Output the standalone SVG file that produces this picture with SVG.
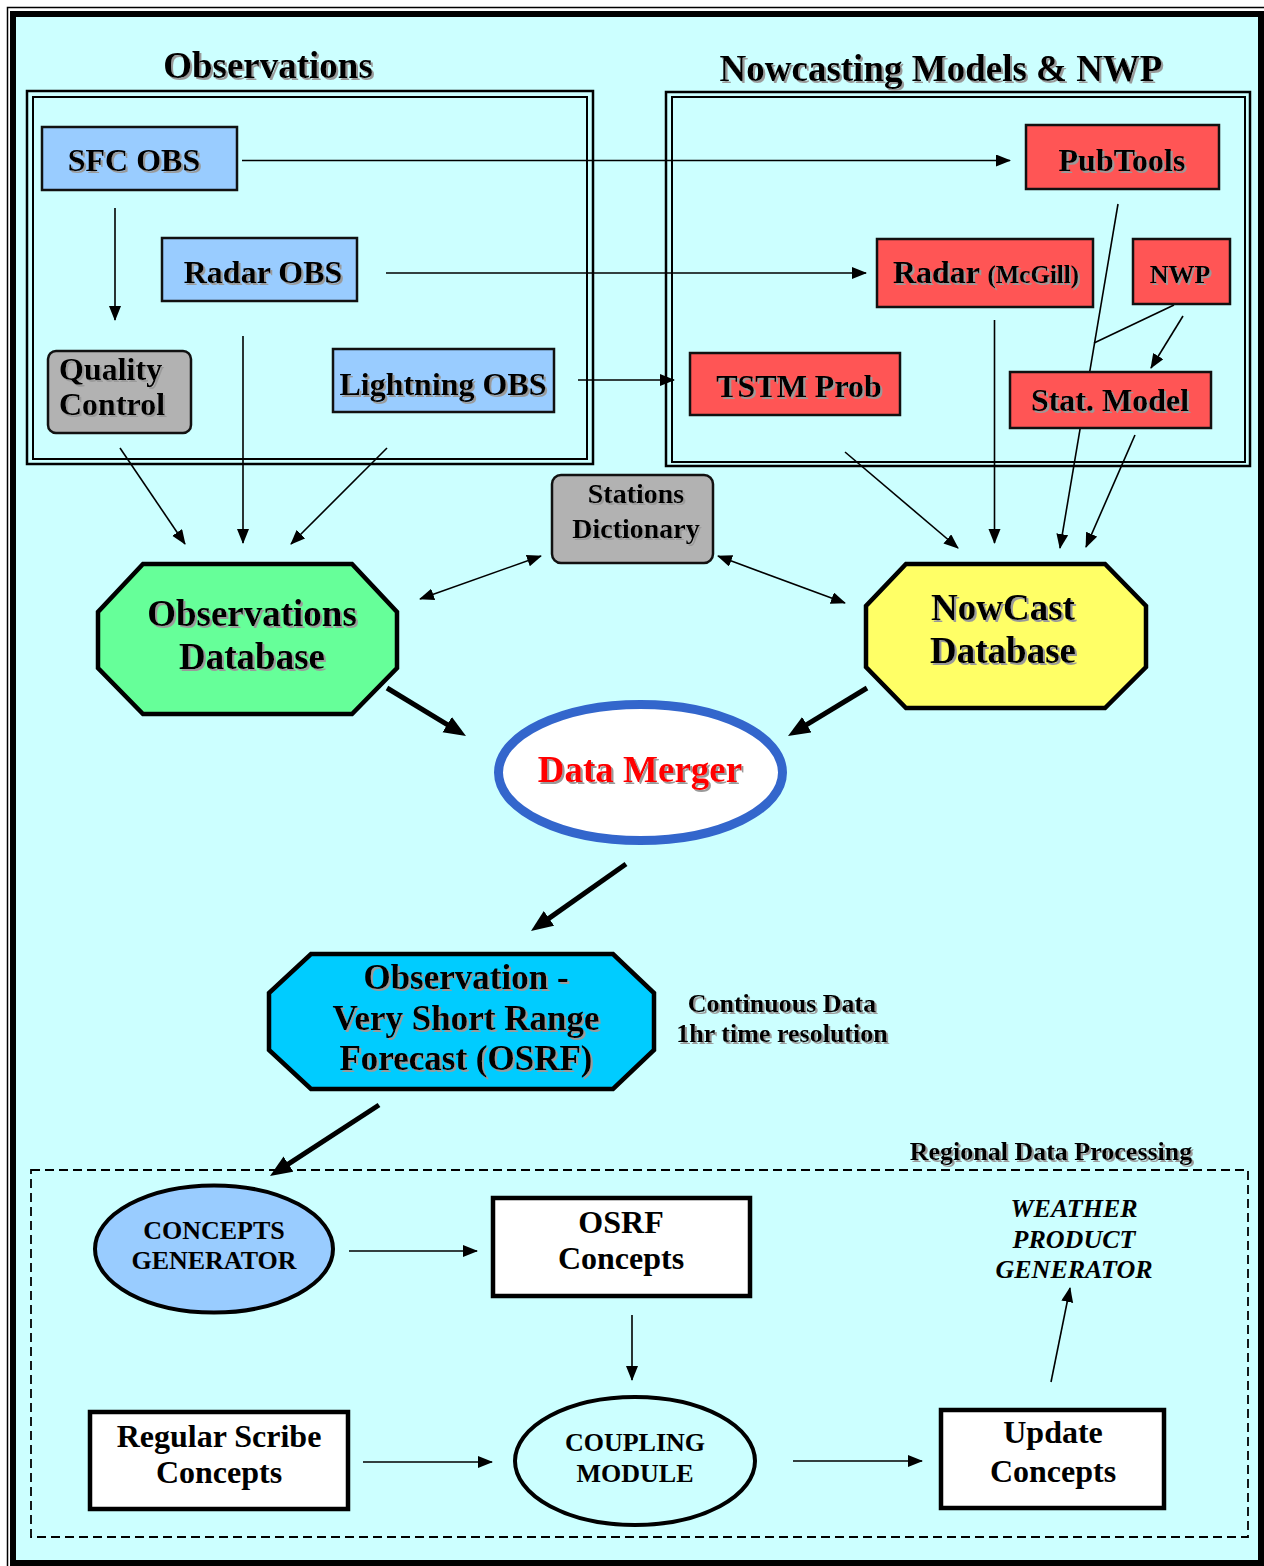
<svg xmlns="http://www.w3.org/2000/svg" width="1264" height="1566" viewBox="0 0 1264 1566">
<defs>
<style>
text{font-family:"Liberation Serif","Times New Roman",serif;font-weight:bold;fill:#000;}
.t37{font-size:37px;}
.t35{font-size:35px;}
.t32{font-size:32px;}
.t28{font-size:28px;}
.t26{font-size:26px;}
.c{text-anchor:middle;}
.sh{filter:url(#shadow);}
.ln{fill:none;stroke:#000;stroke-width:1.6;}
.thick{fill:none;stroke:#000;stroke-width:5;}
.obs{fill:#99CCFF;stroke:#111;stroke-width:2.5;}
.red{fill:#FF5555;stroke:#111;stroke-width:2.5;}
.gray{fill:#B2B2B2;stroke:#111;stroke-width:2.5;}
.oct{stroke:#000;stroke-width:4.5;}
.wbox{fill:#FFFFFF;stroke:#000;stroke-width:4.5;}
</style>
<filter id="shadow" x="-5%" y="-20%" width="115%" height="150%">
<feFlood flood-color="#9a9a9a"/>
<feComposite in2="SourceAlpha" operator="in"/>
<feOffset dx="1.5" dy="1.5" result="s"/>
<feMerge><feMergeNode in="s"/><feMergeNode in="SourceGraphic"/></feMerge>
</filter>
<marker id="ah" markerUnits="userSpaceOnUse" markerWidth="16" markerHeight="13" refX="14" refY="6" orient="auto-start-reverse">
<path d="M0,0 L15,6 L0,12 Z" fill="#000"/>
</marker>
<marker id="ahT" markerUnits="userSpaceOnUse" markerWidth="24" markerHeight="20" refX="4" refY="9" orient="auto">
<path d="M0,0 L22,9 L0,18 Z" fill="#000"/>
</marker>
</defs>

<!-- background frame -->
<rect x="7.5" y="7.5" width="1262" height="1562" fill="none" stroke="#000" stroke-width="1.5"/>
<rect x="13" y="14" width="1248" height="1549" fill="#CCFFFF" stroke="#000" stroke-width="6"/>

<!-- group frames -->
<g id="obs-group">
<rect x="27" y="91" width="566" height="373" fill="none" stroke="#000" stroke-width="2.5"/>
<rect x="33" y="97" width="554" height="362" fill="none" stroke="#000" stroke-width="2"/>
<text class="t37 c sh" x="268" y="78">Observations</text>
</g>
<g id="nwp-group">
<rect x="666" y="92" width="584" height="374" fill="none" stroke="#000" stroke-width="2.5"/>
<rect x="672" y="97" width="573" height="365" fill="none" stroke="#000" stroke-width="2"/>
<text class="t37 c sh" x="941" y="81">Nowcasting Models &amp; NWP</text>
</g>
<g id="regional-group">
<rect x="31" y="1170" width="1217" height="367" fill="none" stroke="#000" stroke-width="1.8" stroke-dasharray="9,5"/>
<text class="t26 c sh" x="1051" y="1160">Regional Data Processing</text>
</g>

<!-- connectors -->
<g id="connectors">
<line class="ln" x1="242" y1="160.5" x2="1010" y2="160.5" marker-end="url(#ah)"/>
<line class="ln" x1="115" y1="208" x2="115" y2="320" marker-end="url(#ah)"/>
<line class="ln" x1="386" y1="273" x2="866" y2="273" marker-end="url(#ah)"/>
<line class="ln" x1="578" y1="380" x2="674" y2="380" marker-end="url(#ah)"/>
<line class="ln" x1="243" y1="336" x2="243" y2="543" marker-end="url(#ah)"/>
<line class="ln" x1="120" y1="448" x2="185" y2="544" marker-end="url(#ah)"/>
<line class="ln" x1="387" y1="448" x2="291" y2="544" marker-end="url(#ah)"/>
<line class="ln" x1="420" y1="599" x2="541" y2="556" marker-start="url(#ah)" marker-end="url(#ah)"/>
<line class="ln" x1="718" y1="556" x2="845" y2="603" marker-start="url(#ah)" marker-end="url(#ah)"/>
<line class="ln" x1="845" y1="452" x2="958" y2="548" marker-end="url(#ah)"/>
<line class="ln" x1="994.5" y1="320" x2="994.5" y2="543" marker-end="url(#ah)"/>
<line class="ln" x1="1118" y1="204" x2="1060" y2="548" marker-end="url(#ah)"/>
<line class="ln" x1="1174" y1="305" x2="1094" y2="343"/>
<line class="ln" x1="1183" y1="316" x2="1151" y2="368" marker-end="url(#ah)"/>
<line class="ln" x1="1135" y1="435" x2="1086" y2="547" marker-end="url(#ah)"/>
<line class="thick" x1="387" y1="688" x2="450.6" y2="726.7" marker-end="url(#ahT)"/>
<line class="thick" x1="867" y1="688" x2="803.4" y2="726.7" marker-end="url(#ahT)"/>
<line class="thick" x1="626" y1="864" x2="545.7" y2="920.6" marker-end="url(#ahT)"/>
<line class="thick" x1="379" y1="1105" x2="285.1" y2="1166.2" marker-end="url(#ahT)"/>
<line class="ln" x1="349" y1="1251" x2="477" y2="1251" marker-end="url(#ah)"/>
<line class="ln" x1="632" y1="1315" x2="632" y2="1380" marker-end="url(#ah)"/>
<line class="ln" x1="363" y1="1462" x2="492" y2="1462" marker-end="url(#ah)"/>
<line class="ln" x1="793" y1="1461" x2="922" y2="1461" marker-end="url(#ah)"/>
<line class="ln" x1="1051" y1="1382" x2="1070" y2="1288" marker-end="url(#ah)"/>
</g>

<!-- observation nodes -->
<g id="sfc-obs">
<rect class="obs" x="42" y="127" width="195" height="63"/>
<text class="t32 c sh" x="134" y="171">SFC OBS</text>
</g>
<g id="radar-obs">
<rect class="obs" x="162" y="238" width="195" height="63"/>
<text class="t32 c sh" x="263" y="283">Radar OBS</text>
</g>
<g id="lightning-obs">
<rect class="obs" x="333" y="349" width="221" height="63"/>
<text class="t32 c sh" x="443" y="395">Lightning OBS</text>
</g>
<g id="quality-control">
<rect class="gray" x="48" y="351" width="143" height="82" rx="8" ry="8"/>
<text class="t32 sh" x="59" y="380">Quality</text>
<text class="t32 sh" x="59" y="415">Control</text>
</g>

<!-- nowcasting nodes -->
<g id="pubtools">
<rect class="red" x="1026" y="125" width="193" height="64"/>
<text class="t32 c sh" x="1122" y="171">PubTools</text>
</g>
<g id="radar-mcgill">
<rect class="red" x="877" y="239" width="216" height="68"/>
<text class="t32 c sh" x="986" y="283">Radar <tspan style="font-size:25px">(McGill)</tspan></text>
</g>
<g id="nwp">
<rect class="red" x="1133" y="239" width="97" height="65"/>
<text class="t26 c sh" x="1180" y="283">NWP</text>
</g>
<g id="tstm-prob">
<rect class="red" x="690" y="353" width="210" height="62"/>
<text class="t32 c sh" x="799" y="397">TSTM Prob</text>
</g>
<g id="stat-model">
<rect class="red" x="1010" y="372" width="201" height="56"/>
<text class="t32 c sh" x="1110" y="411">Stat. Model</text>
</g>

<!-- middle nodes -->
<g id="stations-dictionary">
<rect class="gray" x="552" y="475" width="161" height="88" rx="9" ry="9"/>
<text class="t28 c sh" x="636" y="503">Stations</text>
<text class="t28 c sh" x="636" y="538">Dictionary</text>
</g>
<g id="observations-database">
<polygon class="oct" fill="#66FF99" points="143,564 352,564 397,612 397,668 352,714 143,714 98,668 98,612"/>
<text class="t37 c sh" x="252" y="626">Observations</text>
<text class="t37 c sh" x="252" y="669">Database</text>
</g>
<g id="nowcast-database">
<polygon class="oct" fill="#FFFF66" points="906,564 1105,564 1146,606 1146,667 1105,708 906,708 866,667 866,606"/>
<text class="t37 c sh" x="1003" y="620">NowCast</text>
<text class="t37 c sh" x="1003" y="663">Database</text>
</g>
<g id="data-merger">
<ellipse cx="640.5" cy="772.5" rx="142" ry="68" fill="#FFFFFF" stroke="#3366CC" stroke-width="9"/>
<text class="t37 c sh" x="640" y="782" style="fill:#FF0000">Data Merger</text>
</g>
<g id="osrf">
<polygon class="oct" fill="#00CCFF" points="311,954 613,954 654,993 654,1050 613,1089 311,1089 269,1050 269,993"/>
<text class="t35 c sh" x="466" y="989">Observation -</text>
<text class="t35 c sh" x="466" y="1030">Very Short Range</text>
<text class="t35 c sh" x="466" y="1070">Forecast (OSRF)</text>
</g>
<g id="continuous-note">
<text class="t26 c sh" x="782" y="1012">Continuous Data</text>
<text class="t26 c sh" x="782" y="1042">1hr time resolution</text>
</g>

<!-- regional nodes -->
<g id="concepts-generator">
<ellipse cx="214" cy="1249" rx="119" ry="63.5" fill="#99CCFF" stroke="#000" stroke-width="4"/>
<text class="t26 c" x="214" y="1239">CONCEPTS</text>
<text class="t26 c" x="214" y="1269">GENERATOR</text>
</g>
<g id="osrf-concepts">
<rect class="wbox" x="493" y="1198" width="257" height="98"/>
<text class="t32 c" x="621" y="1233">OSRF</text>
<text class="t32 c" x="621" y="1269">Concepts</text>
</g>
<g id="weather-product-generator">
<text class="t26 c" x="1074" y="1217" font-style="italic">WEATHER</text>
<text class="t26 c" x="1074" y="1248" font-style="italic">PRODUCT</text>
<text class="t26 c" x="1074" y="1278" font-style="italic">GENERATOR</text>
</g>
<g id="regular-scribe-concepts">
<rect class="wbox" x="90" y="1412" width="258" height="97"/>
<text class="t32 c" x="219" y="1447">Regular Scribe</text>
<text class="t32 c" x="219" y="1483">Concepts</text>
</g>
<g id="coupling-module">
<ellipse cx="635" cy="1461" rx="120" ry="64" fill="none" stroke="#000" stroke-width="4"/>
<text class="t26 c" x="635" y="1451">COUPLING</text>
<text class="t26 c" x="635" y="1482">MODULE</text>
</g>
<g id="update-concepts">
<rect class="wbox" x="941" y="1410" width="223" height="98"/>
<text class="t32 c" x="1053" y="1443">Update</text>
<text class="t32 c" x="1053" y="1482">Concepts</text>
</g>
</svg>
